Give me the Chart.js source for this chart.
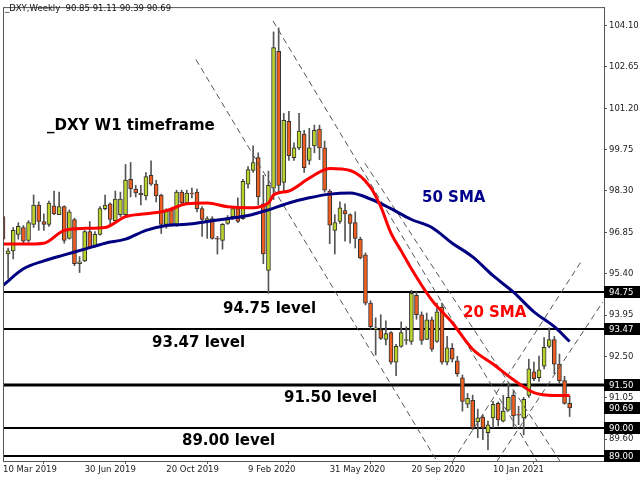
<!DOCTYPE html>
<html>
<head>
<meta charset="utf-8">
<script src="https://cdn.jsdelivr.net/npm/chart.js@4.4.1/dist/chart.umd.min.js"></script>
<style>
html, body { margin: 0; padding: 0; background: #fff; }
</style>
</head>
<body>
<canvas id="dxy" width="640" height="480"></canvas>
<script>
// _DXY weekly candles, first bar = week of 10 Mar 2019
const opens = [97.40,96.09,96.20,96.78,97.02,96.57,97.13,97.81,97.23,97.13,
  97.78,97.47,97.75,96.64,97.30,95.75,95.85,96.88,96.37,96.78,
  97.68,97.85,97.26,97.47,97.47,98.71,98.37,98.23,98.13,98.85,
  98.54,98.16,97.13,97.64,97.13,98.26,97.88,98.23,98.26,97.68,
  97.23,97.33,96.64,96.57,97.16,97.40,97.68,97.33,98.54,99.02,
  99.47,97.85,95.51,98.40,103.20,98.60,100.74,99.47,99.81,100.30,
  99.37,99.88,100.47,99.81,98.30,96.92,97.23,97.61,97.47,97.19,
  96.61,96.06,94.37,93.45,93.44,93.09,93.33,92.30,92.85,93.06,
  93.02,94.64,93.96,93.09,93.78,93.02,94.23,92.30,92.78,92.34,
  91.75,90.82,90.96,90.20,90.37,89.82,90.34,90.85,90.23,90.61,
  91.13,90.47,90.34,91.13,91.96,91.75,92.16,92.85,93.09,92.23,
  91.65,90.85];
const highs = [97.55,96.30,97.02,97.19,97.09,97.26,98.16,97.92,97.50,97.95,
  98.30,98.26,97.78,97.64,97.35,96.00,96.92,97.23,96.88,97.75,
  98.16,97.88,98.30,98.26,99.23,99.30,98.50,98.50,98.95,99.36,
  98.67,98.19,97.68,97.71,98.33,98.33,98.33,98.40,98.37,97.75,
  97.40,97.40,96.71,97.16,97.44,97.75,98.06,98.71,99.16,99.88,
  99.64,98.85,99.00,103.88,104.02,101.02,101.09,99.99,101.02,100.43,
  100.50,100.61,100.61,100.05,98.35,97.47,97.92,97.85,97.50,97.57,
  96.68,96.13,94.45,93.85,93.96,93.75,93.37,92.92,93.71,93.54,
  94.82,94.75,94.06,94.02,93.88,94.37,94.37,93.20,92.95,92.50,
  91.85,91.20,91.14,90.65,90.45,90.23,90.92,90.90,91.13,91.58,
  91.30,90.75,91.06,92.40,92.30,92.51,93.16,93.50,93.20,92.58,
  91.80,91.11];
const lows = [96.50,95.23,95.92,96.61,96.47,96.50,97.02,96.92,96.92,97.06,
  97.47,97.47,96.47,96.61,95.68,95.44,95.82,96.30,96.33,96.75,
  97.64,97.06,97.26,97.40,97.44,98.09,98.09,97.81,97.99,98.50,
  97.92,96.81,96.99,97.06,97.06,97.85,97.85,98.06,97.57,96.71,
  96.64,96.61,96.09,96.26,97.13,97.30,97.19,97.30,98.40,98.95,
  97.81,95.75,94.71,98.00,98.20,98.30,99.37,99.37,99.75,98.95,
  99.23,99.64,99.40,98.26,96.45,96.09,97.16,96.54,96.47,96.30,
  95.92,94.30,93.45,92.55,93.09,92.90,92.23,91.82,92.82,92.92,
  92.92,93.80,92.92,93.09,92.68,92.99,92.23,92.20,92.30,91.80,
  90.58,90.70,89.92,89.65,89.58,89.23,90.00,90.06,90.20,90.58,
  90.00,90.10,89.75,91.06,91.65,91.62,92.06,92.80,91.89,91.54,
  90.82,90.39];
const closes = [96.61,96.20,96.92,97.06,96.54,97.19,97.81,97.23,97.13,97.88,
  97.50,97.75,96.57,97.57,95.75,95.82,96.88,96.30,96.78,97.68,
  97.81,97.30,98.02,98.02,98.68,98.37,98.23,98.16,98.81,98.54,
  98.13,97.13,97.64,97.13,98.26,97.88,98.23,98.20,97.68,97.30,
  97.33,96.64,96.61,97.13,97.37,97.68,97.23,98.64,99.05,99.30,
  98.09,96.09,98.50,103.33,98.50,100.78,99.54,99.81,100.40,99.12,
  99.81,100.43,99.81,98.33,97.10,97.19,97.71,97.50,97.16,96.64,
  95.95,94.37,93.54,93.50,93.13,93.30,92.30,92.85,93.33,93.09,
  94.71,93.96,93.06,93.78,92.75,94.06,92.30,92.80,92.40,91.89,
  90.92,91.03,89.99,90.34,89.99,90.10,90.82,90.27,90.58,91.06,
  90.41,90.44,90.99,92.06,91.72,92.03,92.82,93.09,92.23,91.65,
  90.85,90.69];

// moving averages at these bar numbers
const sma20Idx = [0,4,8,12,16,20,24,28,32,36,40,44,48,52,53,56,60,64,68,72,74,76,78,80,84,88,92,96,100,104,108,111];
const sma20 = [96.44,96.44,96.47,96.92,96.99,97.02,97.40,97.50,97.61,97.85,97.88,97.75,97.71,97.88,98.16,98.30,98.75,99.09,99.02,98.43,97.75,96.82,96.20,95.57,94.47,93.68,92.75,92.23,91.68,91.23,91.13,91.13];
const sma50Idx = [0,4,8,12,16,20,24,28,32,36,40,44,48,52,56,60,64,68,72,76,80,84,88,92,96,100,104,108,111];
const sma50 = [94.99,95.57,95.85,96.06,96.26,96.47,96.61,96.92,97.09,97.13,97.23,97.33,97.44,97.64,97.88,98.06,98.19,98.23,98.02,97.68,97.30,97.02,96.47,95.99,95.33,94.75,94.06,93.54,93.02];

// horizontal levels and right axis
const levels = [94.75, 93.47, 91.50, 90.00, 89.00];
const levelWidths = [2, 2, 3, 2, 2];
const lastPrice = 90.69;
const yTicks = [104.10, 102.65, 101.20, 99.75, 98.30, 96.85, 95.40, 93.95, 92.50, 91.05, 89.60];
const xTickIdx = [0, 16, 32, 48, 64, 80, 96];
const xTickLabels = ['10 Mar 2019', '30 Jun 2019', '20 Oct 2019', '9 Feb 2020', '31 May 2020', '20 Sep 2020', '10 Jan 2021'];

// dashed channel lines: [bar, price, bar, price]
const trendLines = [
  [37.8, 102.91, 85.0, 88.83],
  [52.9, 104.26, 104.6, 88.83],
  [70.9, 99.27, 109.1, 88.83],
  [88.1, 88.83, 113.4, 95.87],
  [96.8, 88.83, 117.5, 94.41]
];

// text notes: [text, bar, price, colour]
const notes = [
  ['_DXY W1 timeframe', 8.62, 100.59, '#000000'],
  ['50 SMA', 82.08, 98.05, '#00008B'],
  ['20 SMA', 90.1, 94.01, '#FF0000'],
  ['94.75 level', 43.1, 94.17, '#000000'],
  ['93.47 level', 29.19, 92.95, '#000000'],
  ['91.50 level', 55.04, 91.03, '#000000'],
  ['89.00 level', 35.06, 89.52, '#000000']
];

const UP = '#BCD22C', DOWN = '#EE5E20';
const candleColors = closes.map((c, i) => c >= opens[i] ? UP : DOWN);

const datasets = [];
datasets.push({
  type: 'line', label: '20 SMA', order: 0,
  data: sma20Idx.map((x, k) => ({ x: x, y: sma20[k] })),
  borderColor: '#FF0000', borderWidth: 3, pointRadius: 0, cubicInterpolationMode: 'monotone'
});
datasets.push({
  type: 'line', label: '50 SMA', order: 0,
  data: sma50Idx.map((x, k) => ({ x: x, y: sma50[k] })),
  borderColor: '#000080', borderWidth: 3, pointRadius: 0, cubicInterpolationMode: 'monotone'
});
trendLines.forEach(t => {
  datasets.push({
    type: 'line', order: 1,
    data: [{ x: t[0], y: t[1] }, { x: t[2], y: t[3] }],
    borderColor: '#555555', borderWidth: 1, borderDash: [6, 4], pointRadius: 0
  });
});
datasets.push({
  type: 'bar', label: 'body', order: 2, grouped: false,
  data: opens.map((o, i) => ({ x: i, y: [o, closes[i]] })),
  backgroundColor: candleColors, borderColor: '#333333', borderWidth: 1,
  borderSkipped: false, barThickness: 4
});
datasets.push({
  type: 'bar', label: 'wick', order: 3, grouped: false,
  data: lows.map((l, i) => ({ x: i, y: [l, highs[i]] })),
  backgroundColor: '#555555', barThickness: 1
});

const overlay = {
  id: 'overlay',
  beforeDatasetsDraw(chart) {
    const { ctx, chartArea: a, scales: { y } } = chart;
    ctx.save();
    ctx.strokeStyle = '#000';
    levels.forEach((v, k) => {
      const py = Math.round(y.getPixelForValue(v));
      ctx.lineWidth = levelWidths[k];
      ctx.beginPath();
      ctx.moveTo(a.left, py);
      ctx.lineTo(a.right, py);
      ctx.stroke();
    });
    ctx.restore();
  },
  afterDraw(chart) {
    const { ctx, chartArea: a, scales: { x, y } } = chart;
    ctx.save();
    // frame
    ctx.strokeStyle = '#555';
    ctx.lineWidth = 1;
    ctx.strokeRect(a.left + 0.5, a.top + 0.5, a.right - a.left, a.bottom - a.top);
    // boxes on the price axis
    ctx.font = '8.5px "DejaVu Sans"';
    ctx.textBaseline = 'middle';
    ctx.textAlign = 'left';
    levels.concat([lastPrice]).forEach(v => {
      const py = Math.round(y.getPixelForValue(v));
      ctx.fillStyle = '#000';
      ctx.fillRect(a.right, py - 6, 640 - a.right, 12);
      ctx.fillStyle = '#fff';
      ctx.fillText(v.toFixed(2), a.right + 5, py + 0.5);
    });
    // notes
    ctx.font = 'bold 15px "DejaVu Sans"';
    notes.forEach(n => {
      ctx.fillStyle = n[3];
      ctx.fillText(n[0], x.getPixelForValue(n[1]), y.getPixelForValue(n[2]));
    });
    // header
    ctx.font = '8.5px "DejaVu Sans"';
    ctx.fillStyle = '#111';
    ctx.fillText('_DXY,Weekly  ' + [opens[111], highs[111], lows[111], closes[111]].map(v => v.toFixed(2)).join(' '), a.left + 2, 9);
    ctx.restore();
  }
};

new Chart(document.getElementById('dxy'), {
  type: 'bar',
  data: { datasets: datasets },
  plugins: [overlay],
  options: {
    responsive: false,
    animation: false,
    devicePixelRatio: 1,
    layout: { padding: { left: 3, top: 2, right: 0, bottom: 0 } },
    plugins: { legend: { display: false }, tooltip: { enabled: false } },
    scales: {
      x: {
        type: 'linear', min: 0, max: 117.73, offset: false,
        afterBuildTicks: s => { s.ticks = xTickIdx.map(v => ({ value: v })); },
        afterFit: s => { s.height = 19; },
        ticks: {
          autoSkip: false, maxRotation: 0, align: 'start', padding: 1,
          color: '#222', font: { family: 'DejaVu Sans', size: 8.5 },
          callback: v => xTickLabels[xTickIdx.indexOf(v)]
        },
        grid: { drawOnChartArea: false, tickLength: 3, color: '#555' },
        border: { color: '#555' }
      },
      y: {
        position: 'right', min: 88.83, max: 104.75,
        afterBuildTicks: s => { s.ticks = yTicks.map(v => ({ value: v })); },
        afterFit: s => { s.width = 36; },
        ticks: {
          padding: 2, color: '#222', font: { family: 'DejaVu Sans', size: 8.5 },
          callback: v => v.toFixed(2)
        },
        grid: { drawOnChartArea: false, tickLength: 3, color: '#555' },
        border: { color: '#555' }
      }
    }
  }
});
</script>
</body>
</html>
